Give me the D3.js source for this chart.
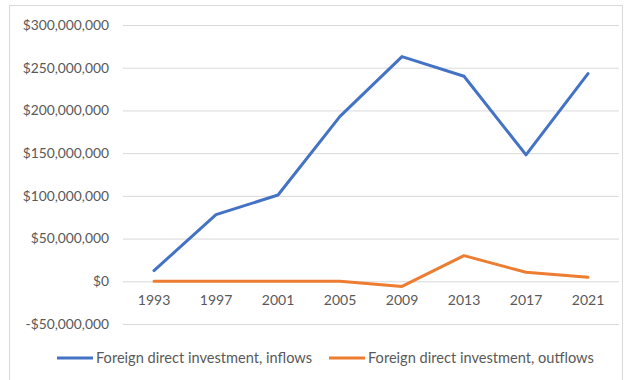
<!DOCTYPE html>
<html>
<head>
<meta charset="utf-8">
<script src="https://cdn.jsdelivr.net/npm/d3@7"></script>
<style>
  html, body { margin: 0; padding: 0; background: #fff; }
  svg { display: block; }
  text { font-family: Lato, "Open Sans", sans-serif; fill: #595959; }
</style>
</head>
<body>
<svg id="chart" width="624" height="380"></svg>
<script>
// Foreign direct investment (current US$), every four years
const years = ["1993", "1997", "2001", "2005", "2009", "2013", "2017", "2021"];
const inflows = [12500000, 78000000, 101000000, 193000000, 263000000, 240000000, 148000000, 243000000];
const outflows = [0, 0, 0, 0, -6000000, 30000000, 10500000, 4700000];
const yTicks = [-50000000, 0, 50000000, 100000000, 150000000, 200000000, 250000000, 300000000];
const seriesNames = ["Foreign direct investment, inflows", "Foreign direct investment, outflows"];
const seriesColors = ["#4472C4", "#ED7D31"];

const svg = d3.select("#chart");

// outer chart frame
svg.append("rect")
  .attr("x", 9.5).attr("y", 5.5)
  .attr("width", 613).attr("height", 390)
  .attr("fill", "none").attr("stroke", "#d9d9d9");

const x = d3.scaleBand().domain(years).range([123, 619]).padding(0);
const y = d3.scaleLinear().domain([-50000000, 300000000]).range([324, 25]);

const fmt = v => (v < 0 ? "-$" : "$") + d3.format(",")(Math.abs(v));

// horizontal gridlines + value labels
const yAxis = d3.axisLeft(y).tickValues(yTicks).tickSize(-(619 - 123)).tickFormat(fmt).tickPadding(14);
const gy = svg.append("g").attr("transform", "translate(123,0)").call(yAxis);
gy.select(".domain").remove();
gy.selectAll(".tick line").attr("stroke", "#d9d9d9").attr("stroke-width", 1);
gy.selectAll(".tick text").style("font-size", "13.8px").attr("fill", "#595959");

// year labels sit just under the zero line
const xAxis = d3.axisBottom(x).tickSize(0).tickPadding(14);
const gx = svg.append("g").attr("transform", `translate(0,${y(0)})`).call(xAxis);
gx.select(".domain").remove();
gx.selectAll(".tick text").style("font-size", "14px").attr("fill", "#595959");

const cx = d => x(d) + x.bandwidth() / 2;
const line = d3.line().x((d, i) => cx(years[i])).y(d => y(d));

[inflows, outflows].forEach((vals, k) => {
  svg.append("path")
    .datum(vals)
    .attr("d", line)
    .attr("fill", "none")
    .attr("stroke", seriesColors[k])
    .attr("stroke-width", 3)
    .attr("stroke-linejoin", "round")
    .attr("stroke-linecap", "round");
});

// legend
const legendY = 358;
const legendX = [57, 329];
seriesNames.forEach((name, k) => {
  const g = svg.append("g").attr("transform", `translate(${legendX[k]},${legendY})`);
  g.append("line").attr("x1", 0).attr("x2", 36).attr("y1", 0).attr("y2", 0)
    .attr("stroke", seriesColors[k]).attr("stroke-width", 3);
  g.append("text").attr("x", 39).attr("y", 0).attr("dy", "0.35em")
    .style("font-size", "14.6px").text(name);
});
</script>
</body>
</html>
